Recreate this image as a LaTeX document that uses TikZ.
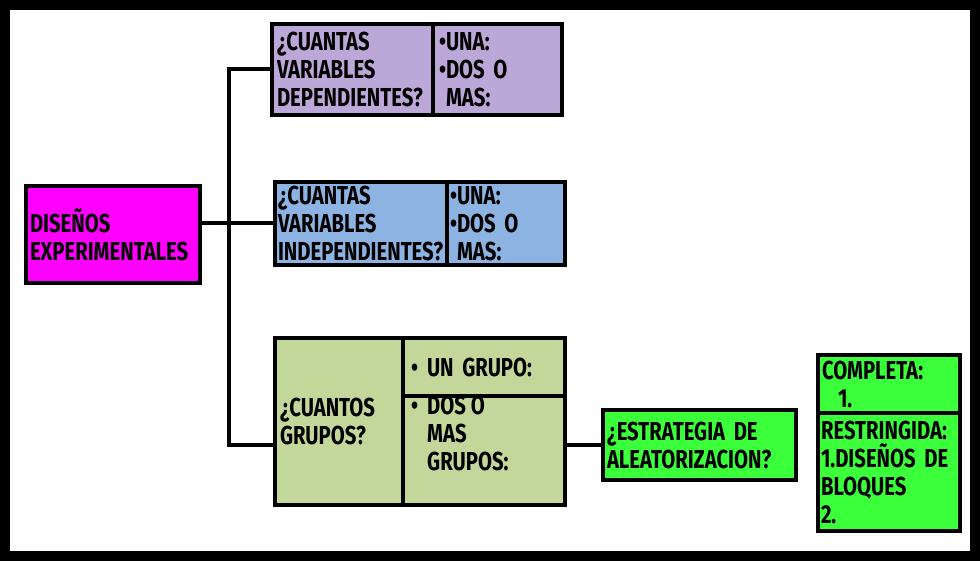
\documentclass[tikz,border=0pt]{standalone}
\usepackage{fontspec}
\setmainfont{Fira Sans}[FakeStretch=0.78]
\definecolor{purp}{HTML}{BBA8D8}
\definecolor{bluebox}{HTML}{8DB3E2}
\definecolor{olivebox}{HTML}{C4D79B}
\definecolor{mylime}{HTML}{3CFF3C}
\definecolor{mymag}{HTML}{FF00FF}
\begin{document}
\begin{tikzpicture}[x=1pt,y=-1pt,
  box/.style={draw=black, line width=4pt, anchor=north west, inner ysep=0pt, inner xsep=6pt, outer sep=0pt, align=left,
    font=\bfseries\fontsize{26}{28}\selectfont},
  txt/.style={inner sep=0pt, anchor=north west, align=left, font=\bfseries\fontsize{26}{28}\selectfont},
  conn/.style={line width=4pt, line cap=rect}]
\fill[black] (0,0) rectangle (980,561);
\fill[white] (10,10) rectangle (970,551);
% main node
\node[box, fill=mymag, minimum width=174pt, minimum height=97pt, text width=166pt, inner xsep=4pt] (pink) at (26,186)
  {DISEÑOS\\EXPERIMENTALES};
% purple
\node[box, fill=purp, minimum width=161pt, minimum height=91pt, text width=151pt, inner xsep=5pt] (pL) at (272,24)
  {¿CUANTAS\\VARIABLES\\DEPENDIENTES?};
\node[box, fill=purp, minimum width=129pt, minimum height=91pt, text width=117pt] (pR) at (433,24)
  {\textbullet UNA:\\\textbullet DOS O\\\phantom{\textbullet}MAS:};
% blue
\node[box, fill=bluebox, minimum width=172pt, minimum height=83pt, text width=166pt, inner xsep=3pt] (bL) at (275,182)
  {¿CUANTAS\\VARIABLES\\INDEPENDIENTES?};
\node[box, fill=bluebox, minimum width=118pt, minimum height=83pt, text width=112pt, inner xsep=2pt] (bR) at (447,182)
  {\textbullet UNA:\\\textbullet DOS O\\\phantom{\textbullet}MAS:};
% green
\node[box, fill=olivebox, minimum width=128pt, minimum height=167pt, text width=118pt, inner xsep=5pt] (gL) at (275,338)
  {¿CUANTOS\\GRUPOS?};
\node[box, fill=olivebox, minimum width=162pt, minimum height=58pt, text width=146pt, inner xsep=8pt] (gTR) at (403,338)
  {\textbullet\hspace{9pt}UN GRUPO:};
\node[box, fill=olivebox, minimum width=162pt, minimum height=109pt] (gBR) at (403,396) {};
\node[txt] (gBRt) at (411,396) {\textbullet\hspace{9pt}DOS O\\\phantom{\textbullet}\hspace{9pt}MAS\\\phantom{\textbullet}\hspace{9pt}GRUPOS:};
% strategy
\node[box, fill=mylime, minimum width=193pt, minimum height=70pt, text width=185pt, inner xsep=4pt] (estr) at (603,410)
  {¿ESTRATEGIA DE\\ALEATORIZACION?};
% right boxes
\node[box, fill=mylime, minimum width=142pt, minimum height=58pt, text width=134pt, inner xsep=4pt] (comp) at (818,355)
  {COMPLETA:\\\hspace{16pt}1.};
\node[box, fill=mylime, minimum width=142pt, minimum height=118pt, text width=136pt, inner xsep=3pt] (rest) at (818,413)
  {RESTRINGIDA:\\1.DISEÑOS DE\\BLOQUES\\2.};
% connectors
\coordinate (trunk) at (229,0);
\draw[conn] (pink.east |- bL) -- (bL.west);
\draw[conn] (trunk |- pL) -- (pL.west);
\draw[conn] (trunk |- pL) -- (trunk |- estr);
\draw[conn] (trunk |- estr) -- (gL.west |- estr);
\draw[conn] (gBR.east |- estr) -- (estr.west);
\end{tikzpicture}
\end{document}
